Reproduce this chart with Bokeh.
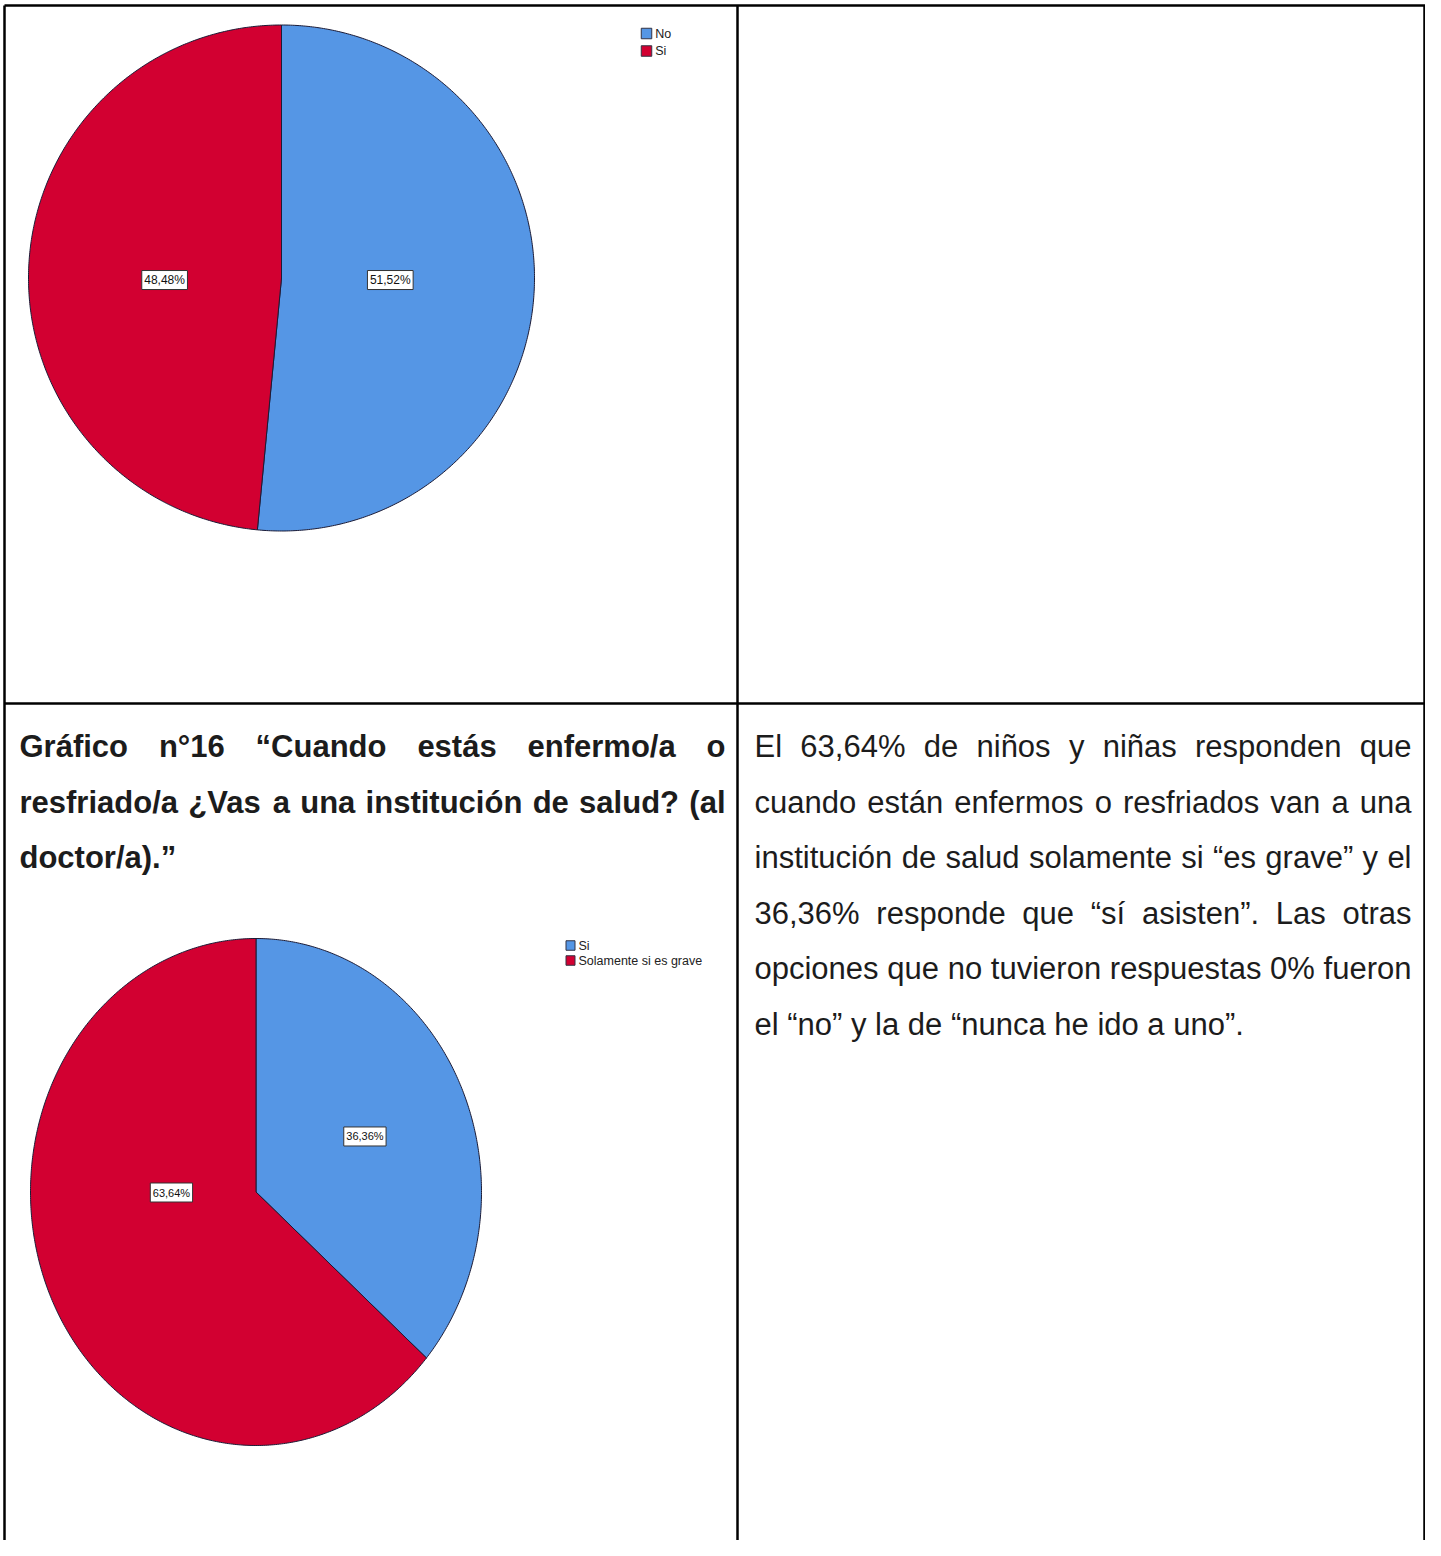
import math
import numpy as np
from bokeh.plotting import figure
from bokeh.models import Range1d
from bokeh.core.properties import value
from bokeh.embed import file_html
from bokeh.resources import INLINE

# ---------------- data ----------------
pie1_labels = ["No", "Si"]
pie1_values = [51.52, 48.48]
pie2_labels = ["Si", "Solamente si es grave"]
pie2_values = [36.36, 63.64]
slice_colors = ["#5596E5", "#D20031"]

title_lines = [
    "Gráfico n°16 “Cuando estás enfermo/a o",
    "resfriado/a ¿Vas a una institución de salud? (al",
    "doctor/a).”",
]
paragraph_lines = [
    "El 63,64% de niños y niñas responden que",
    "cuando están enfermos o resfriados van a una",
    "institución de salud solamente si “es grave” y el",
    "36,36% responde que “sí asisten”. Las otras",
    "opciones que no tuvieron respuestas 0% fueron",
    "el “no” y la de “nunca he ido a uno”.",
]

# --------- Arial / Liberation Sans advance widths (per 1000 em) ---------
REG = {" ": 278, "E": 667, "L": 556, "l": 222, "0": 556, "1": 556, "2": 556, "3": 556,
       "4": 556, "5": 556, "6": 556, "7": 556, "8": 556, "9": 556, ",": 278, "%": 889,
       "d": 556, "e": 556, "n": 556, "i": 222, "ñ": 556, "o": 556, "s": 500, "y": 500,
       "a": 556, "r": 333, "p": 556, "u": 556, "q": 556, "c": 500, "á": 556, "f": 278,
       "m": 833, "v": 500, "t": 278, "ó": 556, "“": 333, "”": 333, "g": 556, ".": 278,
       "í": 278, "h": 556, "S": 667, "N": 722}
BOLD = {" ": 278, "G": 778, "r": 389, "á": 556, "f": 333, "i": 278, "c": 556, "o": 611,
        "n": 611, "°": 400, "1": 556, "6": 556, "“": 500, "C": 722, "u": 611, "a": 556,
        "d": 611, "e": 556, "s": 556, "t": 333, "m": 889, "/": 278, "¿": 611, "V": 667,
        "l": 278, "ó": 611, "?": 611, "(": 333, ")": 333, ".": 278, "”": 500}


def text_width(s, table, size):
    return sum(table.get(ch, 556) for ch in s) * size / 1000.0


def layout_words(line, x0, x1, table, size, justify):
    words = line.split(" ")
    ws = [text_width(w, table, size) for w in words]
    if justify and len(words) > 1:
        gap = (x1 - x0 - sum(ws)) / (len(words) - 1)
    else:
        gap = table[" "] * size / 1000.0
    xs, x = [], x0
    for w in ws:
        xs.append(x)
        x += w + gap
    return words, xs


def pie_patches(values, cx, cy, rx, ry):
    total = float(sum(values))
    start = 0.0
    xs_all, ys_all = [], []
    for v in values:
        a0 = 2 * math.pi * start / total
        a1 = 2 * math.pi * (start + v) / total
        t = np.linspace(a0, a1, max(int((a1 - a0) / (2 * math.pi) * 720), 3))
        xs_all.append([cx] + list(cx + rx * np.sin(t)))
        ys_all.append([cy] + list(cy - ry * np.cos(t)))
        start += v
    return xs_all, ys_all


def pct(v):
    return ("%.2f" % v).replace(".", ",") + "%"


# ---------------- figure (1 data unit = 1 pixel of the picture) ----------------
W, H = 1425, 1540
p = figure(width=W, height=H, x_range=Range1d(0, W), y_range=Range1d(H, 0),
           output_backend="svg", toolbar_location=None,
           x_axis_location=None, y_axis_location=None, min_border=0)
p.grid.visible = False
p.outline_line_color = None
p.background_fill_color = "white"
p.border_fill_color = "white"

FONT = value("Liberation Sans")
INK = "#1c1c1c"
EDGE = "#1b1b36"

# ---------------- pies ----------------
pies = [
    dict(values=pie1_values, labels=pie1_labels, cx=281, cy=277.5, rx=253, ry=253,
         lab_off=[(0.43, 0.008), (-0.462, 0.008)], lab_size=12, box_h=19,
         leg_x=646, leg_y=[33, 50.5], leg_w=10.5, leg_h=10.5, leg_size=12.5),
    dict(values=pie2_values, labels=pie2_labels, cx=255.5, cy=1191.5, rx=225.5, ry=253.5,
         lab_off=[(0.483, -0.219), (-0.375, 0.002)], lab_size=11, box_h=19,
         leg_x=570, leg_y=[945, 960], leg_w=9, leg_h=9.5, leg_size=12.5),
]

for pie in pies:
    xs, ys = pie_patches(pie["values"], pie["cx"], pie["cy"], pie["rx"], pie["ry"])
    p.patches(xs, ys, fill_color=slice_colors, line_color=EDGE, line_width=1)
    # percentage labels in white boxes
    lx = [pie["cx"] + fx * pie["rx"] for fx, fy in pie["lab_off"]]
    ly = [pie["cy"] + fy * pie["ry"] for fx, fy in pie["lab_off"]]
    texts = [pct(v) for v in pie["values"]]
    bw = [text_width(t, REG, pie["lab_size"]) + 5 for t in texts]
    p.rect(lx, ly, width=bw, height=pie["box_h"], fill_color="white",
           line_color="#333333", line_width=1)
    p.text(lx, ly, text=texts, text_font=FONT, text_font_size="%dpx" % pie["lab_size"],
           text_align="center", text_baseline="middle", text_color="#111111")
    # legend
    p.rect([pie["leg_x"]] * 2, pie["leg_y"], width=pie["leg_w"], height=pie["leg_h"],
           fill_color=slice_colors, line_color="#333344", line_width=1)
    p.text([pie["leg_x"] + pie["leg_w"] / 2 + 3.5] * 2, pie["leg_y"], text=pie["labels"],
           text_font=FONT, text_font_size="%.1fpx" % pie["leg_size"], text_align="left",
           text_baseline="middle", text_color="#222222")

# ---------------- texts ----------------
SIZE = 31
BASE0 = 746
LEAD = 55.5

tx, ty, tt = [], [], []
for i, line in enumerate(title_lines):
    words, xs = layout_words(line, 19, 725, BOLD, SIZE, i < len(title_lines) - 1)
    tx += xs
    ty += [BASE0 + i * LEAD] * len(words)
    tt += words
p.text(tx, ty, text=tt, text_font=FONT, text_font_size="%dpx" % SIZE, text_font_style="bold",
       text_align="left", text_baseline="alphabetic", text_color=INK)

px_, py_, pt_ = [], [], []
for i, line in enumerate(paragraph_lines):
    words, xs = layout_words(line, 754, 1411, REG, SIZE, i < len(paragraph_lines) - 1)
    px_ += xs
    py_ += [BASE0 + i * LEAD] * len(words)
    pt_ += words
p.text(px_, py_, text=pt_, text_font=FONT, text_font_size="%dpx" % SIZE,
       text_align="left", text_baseline="alphabetic", text_color=INK)

# ---------------- table borders ----------------
border_x = [[4, 1424.5], [4, 1424.5], [4, 4], [737, 737], [1424, 1424]]
border_y = [[5, 5], [703, 703], [5, 1545], [5, 1545], [5, 1545]]
p.multi_line(border_x, border_y, line_color="black", line_width=2.5)

open("out.html", "w").write(file_html(p, INLINE))
